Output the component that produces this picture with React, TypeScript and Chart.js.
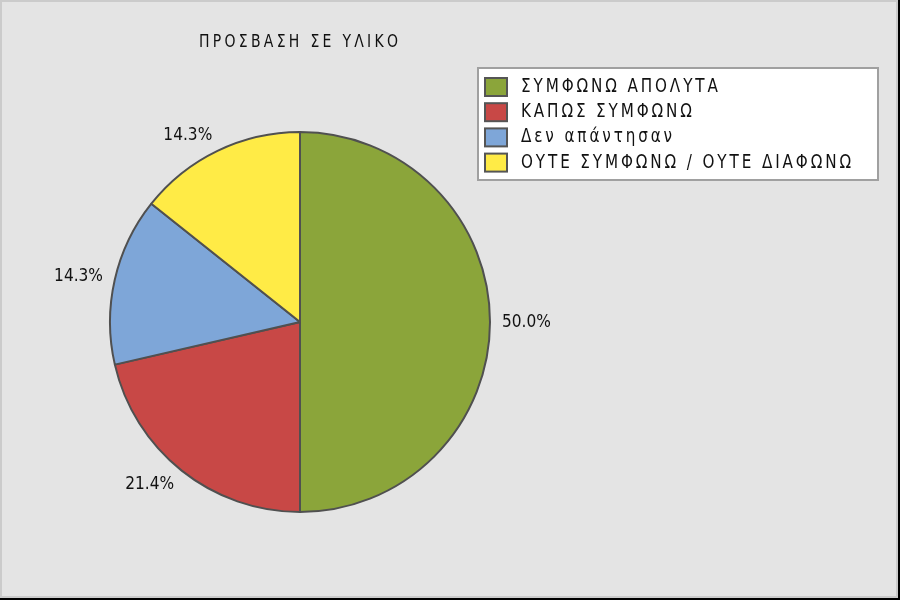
import React, { useEffect, useRef } from "react";
import { Chart, registerables } from "chart.js";

Chart.register(...registerables);

const TITLE = "ΠΡΟΣΒΑΣΗ ΣΕ ΥΛΙΚΟ";
const categories = [
  "ΣΥΜΦΩΝΩ ΑΠΟΛΥΤΑ",
  "ΚΑΠΩΣ ΣΥΜΦΩΝΩ",
  "Δεν απάντησαν",
  "ΟΥΤΕ ΣΥΜΦΩΝΩ / ΟΥΤΕ ΔΙΑΦΩΝΩ",
];
const percentages = [50.0, 21.4, 14.3, 14.3];
const sliceColors = ["#8ba53a", "#c84846", "#7ea6d8", "#ffeb46"];

const FONT = '"DejaVu Sans", "Noto Sans", sans-serif';
const TEXT_COLOR = "#111111";

function visualWidth(ctx: CanvasRenderingContext2D, text: string, font: string, sx: number) {
  ctx.save();
  ctx.font = font;
  (ctx as any).letterSpacing = "0px";
  const w = ctx.measureText(text).width * sx;
  ctx.restore();
  return w;
}

function fitSpacing(ctx: CanvasRenderingContext2D, text: string, font: string, sx: number, target: number) {
  const n = Array.from(text).length;
  const w0 = visualWidth(ctx, text, font, sx);
  return (target - w0) / (n - 1);
}

function drawText(
  ctx: CanvasRenderingContext2D,
  text: string,
  x: number,
  y: number,
  font: string,
  spacing: number,
  sx: number,
  align: "left" | "right" = "left",
  baseline: CanvasTextBaseline = "alphabetic"
) {
  ctx.save();
  ctx.font = font;
  (ctx as any).letterSpacing = "0px";
  const n = Array.from(text).length;
  const w = ctx.measureText(text).width * sx + (n - 1) * spacing;
  ctx.translate(align === "right" ? x - w : x, y);
  ctx.scale(sx, 1);
  (ctx as any).letterSpacing = `${spacing / sx}px`;
  ctx.textAlign = "left";
  ctx.textBaseline = baseline;
  ctx.fillStyle = TEXT_COLOR;
  ctx.fillText(text, 0, 0);
  ctx.restore();
}

const decorPlugin = {
  id: "decor",
  beforeDraw(chart: any) {
    const ctx: CanvasRenderingContext2D = chart.ctx;
    const W = chart.width;
    const H = chart.height;
    ctx.save();
    // frame
    ctx.fillStyle = "#cbcbcb";
    ctx.fillRect(0, 0, W, H);
    ctx.fillStyle = "#000000";
    ctx.fillRect(W - 2, 0, 2, H);
    ctx.fillRect(0, H - 2, W, 2);
    ctx.fillStyle = "#e4e4e4";
    ctx.fillRect(2, 2, W - 6, H - 6);

    // title
    const titleFont = `17.5px ${FONT}`;
    const titleSx = 0.8;
    const tSp = fitSpacing(ctx, TITLE, titleFont, titleSx, 199);
    drawText(ctx, TITLE, 199, 47, titleFont, tSp, titleSx);

    // legend box
    ctx.fillStyle = "#ffffff";
    ctx.fillRect(478, 68, 400, 112);
    ctx.strokeStyle = "#a0a0a0";
    ctx.lineWidth = 2;
    ctx.strokeRect(478, 68, 400, 112);

    const legFont = `19px ${FONT}`;
    const legSx = 0.8;
    const longest = categories.reduce((a, b) => (Array.from(b).length > Array.from(a).length ? b : a));
    const lSp = fitSpacing(ctx, longest, legFont, legSx, 330);
    categories.forEach((cat, i) => {
      const top = 78 + i * 25.2;
      ctx.fillStyle = sliceColors[i];
      ctx.fillRect(485, top, 22, 18);
      ctx.strokeStyle = "#555555";
      ctx.lineWidth = 2;
      ctx.strokeRect(485, top, 22, 18);
      drawText(ctx, cat, 521, top + 14, legFont, lSp, legSx);
    });
    ctx.restore();
  },
  afterDatasetsDraw(chart: any) {
    const ctx: CanvasRenderingContext2D = chart.ctx;
    const meta = chart.getDatasetMeta(0);
    const gap = 12;
    const font = `17.5px ${FONT}`;
    meta.data.forEach((arc: any, i: number) => {
      const { x, y, startAngle, endAngle, outerRadius } = arc.getProps(
        ["x", "y", "startAngle", "endAngle", "outerRadius"],
        true
      );
      const mid = (startAngle + endAngle) / 2;
      const c = Math.cos(mid);
      const s = Math.sin(mid);
      const ax = x + c * (outerRadius + gap);
      const ay = y + s * (outerRadius + gap) + s * 5;
      const label = percentages[i].toFixed(1) + "%";
      drawText(ctx, label, ax, ay, font, 0, 0.88, c >= -0.01 ? "left" : "right", "middle");
    });
  },
};

export default function App() {
  const canvasRef = useRef<HTMLCanvasElement | null>(null);

  useEffect(() => {
    document.body.style.margin = "0";
    const canvas = canvasRef.current;
    if (!canvas) return;
    const chart = new Chart(canvas, {
      type: "pie",
      data: {
        labels: categories,
        datasets: [
          {
            data: percentages,
            backgroundColor: sliceColors,
            borderColor: "#505050",
            borderWidth: 2,
            borderAlign: "center",
          } as any,
        ],
      },
      options: {
        responsive: false,
        maintainAspectRatio: false,
        animation: false,
        layout: { padding: { left: 109, right: 409, top: 131, bottom: 87 } },
        plugins: {
          legend: { display: false },
          title: { display: false },
          tooltip: { enabled: false },
        },
      },
      plugins: [decorPlugin],
    });
    return () => chart.destroy();
  }, []);

  return (
    <div style={{ width: 900, height: 600 }}>
      <canvas ref={canvasRef} width={900} height={600} style={{ display: "block" }} />
    </div>
  );
}
